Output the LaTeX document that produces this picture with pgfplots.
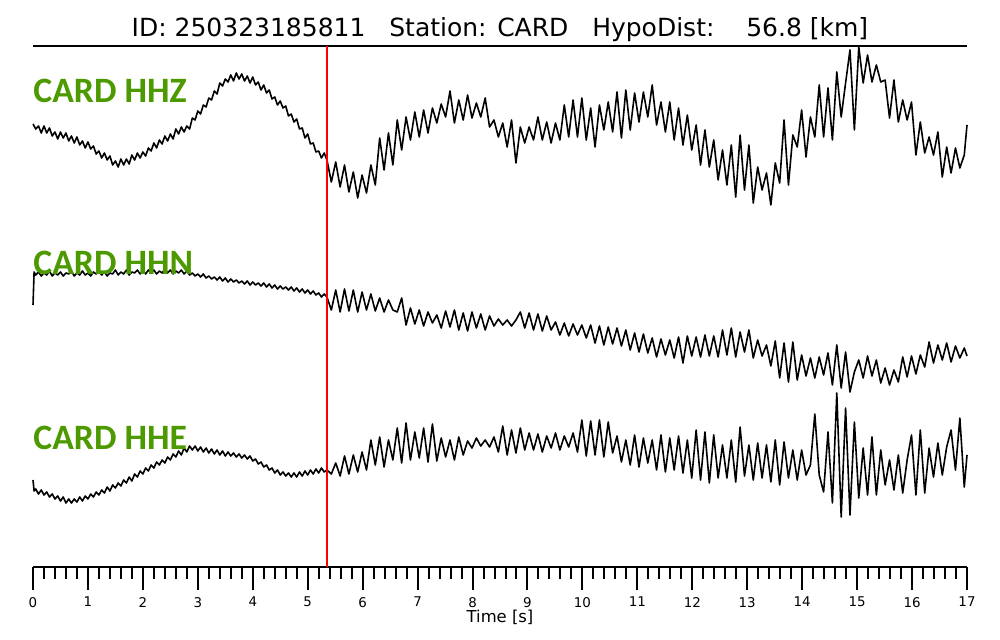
\documentclass[border=0pt]{standalone}
\usepackage{pgfplots}
\pgfplotsset{compat=1.18}
\usepackage{fontspec}
\setmainfont{DejaVu Sans}
\newfontfamily\carl{Carlito}
\definecolor{lblgreen}{RGB}{76,153,0}
\definecolor{pickred}{RGB}{255,0,0}
\begin{document}
\begin{tikzpicture}[x=1pt,y=1pt]
\useasboundingbox (0,0) rectangle (500,320);
\begin{axis}[
  at={(16.5pt,36.5pt)}, anchor=south west,
  scale only axis, width=467pt, height=260.5pt,
  xmin=0, xmax=17, ymin=46, ymax=567, y dir=reverse,
  axis x line=box, axis y line=none,
  x axis line style={line width=1pt},
  xtick={0,1,...,17}, minor x tick num=4, ytick=\empty,
  xtick pos=left,
  tick align=outside, major tick length=11.5pt, minor tick length=6pt,
  tick style={black, line width=1pt},
  /pgf/number format/assume math mode=true,
  xticklabel style={font=\fontsize{6.7}{8}\selectfont},
  clip=false,
]
\addplot[black, line width=0.8pt, line join=round] coordinates {
(0,124)(0.05,129)(0.1,126)(0.15,133)(0.2,126)(0.25,133)(0.3,128)(0.35,136)(0.4,132)(0.45,139)(0.5,132)(0.55,138)(0.6,133)(0.65,141)(0.7,136)(0.75,143)(0.8,137)(0.85,145)(0.9,141)(0.95,148)(1,142)(1.05,149)(1.1,146)(1.15,154)(1.2,151)(1.25,158)(1.3,153)(1.35,160)(1.4,156)(1.45,165)(1.5,161)(1.55,167)(1.6,159)(1.65,165)(1.7,159)(1.75,164)(1.8,155)(1.85,160)(1.9,153)(1.95,158)(2,152)(2.05,156)(2.1,148)(2.15,151)(2.2,143)(2.25,148)(2.3,140)(2.35,144)(2.4,136)(2.45,141)(2.5,134)(2.55,139)(2.6,129)(2.65,134)(2.7,127)(2.75,132)(2.8,126)(2.85,129)(2.9,118)(2.95,120)(3,111)(3.05,114)(3.1,105)(3.15,107)(3.2,98)(3.25,100)(3.3,91)(3.35,94)(3.4,83)(3.45,86)(3.5,79)(3.55,82)(3.6,75)(3.65,81)(3.7,73)(3.75,79)(3.8,74)(3.85,81)(3.9,76)(3.95,83)(4,77)(4.05,85)(4.1,82)(4.15,90)(4.2,85)(4.25,93)(4.3,90)(4.35,99)(4.4,97)(4.45,105)(4.5,101)(4.55,108)(4.6,106)(4.65,116)(4.7,114)(4.75,122)(4.8,119)(4.85,129)(4.9,128)(4.95,138)(5,134)(5.05,144)(5.1,143)(5.15,152)(5.2,151)(5.25,158)(5.3,153)(5.35,160)
(5.43,182)(5.51,162)(5.59,187)(5.67,165)(5.75,192)(5.83,172)(5.91,198)(5.99,175)(6.07,193)(6.15,165)(6.23,185)(6.31,138)(6.39,170)(6.47,133)(6.55,165)(6.63,120)(6.71,150)(6.79,117)(6.87,140)(6.95,112)(7.03,137)(7.11,110)(7.19,133)(7.27,108)(7.35,123)(7.43,104)(7.51,117)(7.59,91)(7.67,123)(7.75,100)(7.83,120)(7.91,95)(7.99,118)(8.07,103)(8.15,117)(8.23,98)(8.31,127)(8.39,120)(8.47,137)(8.55,123)(8.63,147)(8.71,120)(8.79,163)(8.87,127)(8.95,143)(9.03,127)(9.11,140)(9.19,117)(9.27,140)(9.35,122)(9.43,143)(9.51,123)(9.59,140)(9.67,105)(9.75,137)(9.83,100)(9.91,137)(9.99,98)(10.07,140)(10.15,108)(10.23,147)(10.31,105)(10.39,130)(10.47,102)(10.55,132)(10.63,92)(10.71,138)(10.79,90)(10.87,130)(10.95,93)(11.03,122)(11.11,92)(11.19,117)(11.27,85)(11.35,125)(11.43,102)(11.51,132)(11.59,102)(11.67,140)(11.75,108)(11.83,145)(11.91,115)(11.99,150)(12.07,125)(12.15,165)(12.23,130)(12.31,167)(12.39,140)(12.47,180)(12.55,150)(12.63,185)(12.71,145)(12.79,197)(12.87,135)(12.95,190)(13.03,145)(13.11,203)(13.19,167)(13.27,190)(13.35,173)(13.43,205)(13.51,163)(13.59,183)(13.67,120)(13.75,185)(13.83,135)(13.91,147)(13.99,110)(14.07,157)(14.15,117)(14.23,137)(14.31,85)(14.39,137)(14.47,88)(14.55,140)(14.63,72)(14.71,117)(14.79,83)(14.87,50)(14.95,130)(15.03,47)(15.11,83)(15.19,55)(15.27,82)(15.35,65)(15.43,82)(15.51,80)(15.59,118)(15.67,80)(15.75,122)(15.83,100)(15.91,120)(15.99,102)(16.07,155)(16.15,122)(16.23,153)(16.31,137)(16.39,155)(16.47,132)(16.55,177)(16.63,147)(16.71,173)(16.79,148)(16.87,168)(16.95,155)(17,125)
};
\addplot[black, line width=0.8pt, line join=round] coordinates {
(0,305)(0.02,272)(0.05,275)(0.1,272)(0.15,276)(0.2,273)(0.25,275)(0.3,271)(0.35,276)(0.4,273)(0.45,275)(0.5,272)(0.55,276)(0.6,273)(0.65,274)(0.7,271)(0.75,276)(0.8,273)(0.85,275)(0.9,271)(0.95,275)(1,273)(1.05,276)(1.1,272)(1.15,274)(1.2,271)(1.25,275)(1.3,272)(1.35,276)(1.4,273)(1.45,274)(1.5,270)(1.55,275)(1.6,272)(1.65,274)(1.7,270)(1.75,275)(1.8,272)(1.85,273)(1.9,270)(1.95,274)(2,271)(2.05,274)(2.1,270)(2.15,273)(2.2,270)(2.25,274)(2.3,271)(2.35,273)(2.4,269)(2.45,273)(2.5,270)(2.55,274)(2.6,271)(2.65,273)(2.7,270)(2.75,274)(2.8,271)(2.85,275)(2.9,273)(2.95,276)(3,274)(3.05,277)(3.1,274)(3.15,278)(3.2,276)(3.25,279)(3.3,277)(3.35,280)(3.4,277)(3.45,281)(3.5,278)(3.55,282)(3.6,279)(3.65,282)(3.7,280)(3.75,283)(3.8,281)(3.85,284)(3.9,281)(3.95,285)(4,282)(4.05,285)(4.1,283)(4.15,286)(4.2,283)(4.25,287)(4.3,284)(4.35,288)(4.4,285)(4.45,289)(4.5,286)(4.55,289)(4.6,287)(4.65,290)(4.7,287)(4.75,291)(4.8,288)(4.85,292)(4.9,289)(4.95,293)(5,290)(5.05,294)(5.1,291)(5.15,295)(5.2,293)(5.25,297)(5.3,294)(5.35,297)
(5.43,310)(5.51,290)(5.59,312)(5.67,289)(5.75,311)(5.83,290)(5.91,312)(5.99,292)(6.07,310)(6.15,294)(6.23,311)(6.31,298)(6.39,312)(6.47,300)(6.55,310)(6.63,312)(6.71,298)(6.79,325)(6.87,308)(6.95,324)(7.03,310)(7.11,326)(7.19,312)(7.27,323)(7.35,315)(7.43,328)(7.51,311)(7.59,327)(7.67,310)(7.75,330)(7.83,313)(7.91,331)(7.99,312)(8.07,328)(8.15,314)(8.23,330)(8.31,316)(8.39,326)(8.47,319)(8.55,325)(8.63,320)(8.71,326)(8.79,320)(8.87,312)(8.95,328)(9.03,313)(9.11,330)(9.19,314)(9.27,331)(9.35,316)(9.43,330)(9.51,322)(9.59,335)(9.67,323)(9.75,336)(9.83,324)(9.91,335)(9.99,325)(10.07,338)(10.15,325)(10.23,343)(10.31,326)(10.39,345)(10.47,327)(10.55,344)(10.63,328)(10.71,346)(10.79,330)(10.87,350)(10.95,333)(11.03,352)(11.11,334)(11.19,353)(11.27,338)(11.35,357)(11.43,339)(11.51,355)(11.59,340)(11.67,358)(11.75,337)(11.83,363)(11.91,336)(11.99,356)(12.07,337)(12.15,357)(12.23,335)(12.31,356)(12.39,336)(12.47,357)(12.55,330)(12.63,355)(12.71,328)(12.79,357)(12.87,332)(12.95,352)(13.03,330)(13.11,358)(13.19,340)(13.27,356)(13.35,345)(13.43,366)(13.51,341)(13.59,378)(13.67,343)(13.75,382)(13.83,342)(13.91,380)(13.99,355)(14.07,376)(14.15,358)(14.23,378)(14.31,357)(14.39,375)(14.47,353)(14.55,385)(14.63,345)(14.71,388)(14.79,352)(14.87,392)(14.95,372)(15.03,360)(15.11,378)(15.19,356)(15.27,376)(15.35,360)(15.43,383)(15.51,368)(15.59,385)(15.67,370)(15.75,382)(15.83,357)(15.91,377)(15.99,356)(16.07,374)(16.15,355)(16.23,367)(16.31,342)(16.39,363)(16.47,345)(16.55,360)(16.63,343)(16.71,362)(16.79,346)(16.87,358)(16.95,348)(17,356)
};
\addplot[black, line width=0.8pt, line join=round] coordinates {
(0,480)(0.02,491)(0.05,489)(0.1,494)(0.15,490)(0.2,495)(0.25,492)(0.3,497)(0.35,494)(0.4,499)(0.45,496)(0.5,501)(0.55,497)(0.6,503)(0.65,499)(0.7,503)(0.75,499)(0.8,502)(0.85,497)(0.9,501)(0.95,496)(1,499)(1.05,494)(1.1,497)(1.15,492)(1.2,495)(1.25,490)(1.3,493)(1.35,487)(1.4,491)(1.45,485)(1.5,488)(1.55,483)(1.6,486)(1.65,480)(1.7,483)(1.75,477)(1.8,481)(1.85,474)(1.9,477)(1.95,471)(2,474)(2.05,468)(2.1,471)(2.15,465)(2.2,468)(2.25,462)(2.3,465)(2.35,460)(2.4,463)(2.45,457)(2.5,460)(2.55,454)(2.6,457)(2.65,451)(2.7,455)(2.75,448)(2.8,452)(2.85,446)(2.9,450)(2.95,446)(3,451)(3.05,447)(3.1,452)(3.15,448)(3.2,453)(3.25,449)(3.3,454)(3.35,450)(3.4,455)(3.45,451)(3.5,456)(3.55,452)(3.6,456)(3.65,453)(3.7,457)(3.75,454)(3.8,458)(3.85,455)(3.9,459)(3.95,456)(4,461)(4.05,459)(4.1,464)(4.15,462)(4.2,467)(4.25,465)(4.3,470)(4.35,468)(4.4,473)(4.45,470)(4.5,475)(4.55,472)(4.6,476)(4.65,473)(4.7,477)(4.75,473)(4.8,477)(4.85,472)(4.9,476)(4.95,471)(5,475)(5.05,470)(5.1,474)(5.15,469)(5.2,473)(5.25,468)(5.3,472)(5.35,470)
(5.43,474)(5.51,463)(5.59,476)(5.67,456)(5.75,474)(5.83,455)(5.91,472)(5.99,452)(6.07,470)(6.15,440)(6.23,465)(6.31,437)(6.39,467)(6.47,440)(6.55,460)(6.63,428)(6.71,463)(6.79,423)(6.87,460)(6.95,432)(7.03,458)(7.11,428)(7.19,462)(7.27,424)(7.35,461)(7.43,438)(7.51,457)(7.59,440)(7.67,460)(7.75,437)(7.83,455)(7.91,441)(7.99,448)(8.07,438)(8.15,446)(8.23,440)(8.31,447)(8.39,437)(8.47,452)(8.55,426)(8.63,455)(8.71,430)(8.79,453)(8.87,428)(8.95,450)(9.03,433)(9.11,450)(9.19,434)(9.27,452)(9.35,436)(9.43,448)(9.51,433)(9.59,450)(9.67,436)(9.75,447)(9.83,433)(9.91,452)(9.99,420)(10.07,456)(10.15,421)(10.23,455)(10.31,420)(10.39,457)(10.47,422)(10.55,453)(10.63,436)(10.71,462)(10.79,440)(10.87,465)(10.95,435)(11.03,467)(11.11,438)(11.19,463)(11.27,440)(11.35,470)(11.43,435)(11.51,472)(11.59,438)(11.67,470)(11.75,436)(11.83,473)(11.91,440)(11.99,478)(12.07,430)(12.15,480)(12.23,432)(12.31,483)(12.39,435)(12.47,478)(12.55,445)(12.63,478)(12.71,440)(12.79,482)(12.87,427)(12.95,476)(13.03,445)(13.11,480)(13.19,443)(13.27,478)(13.35,445)(13.43,482)(13.51,440)(13.59,485)(13.67,442)(13.75,478)(13.83,450)(13.91,480)(13.99,450)(14.07,475)(14.15,465)(14.23,414)(14.31,475)(14.39,492)(14.47,432)(14.55,503)(14.63,393)(14.71,517)(14.79,408)(14.87,515)(14.95,422)(15.03,498)(15.11,448)(15.19,495)(15.27,437)(15.35,495)(15.43,450)(15.51,485)(15.59,460)(15.67,490)(15.75,455)(15.83,493)(15.91,460)(15.99,435)(16.07,495)(16.15,430)(16.23,493)(16.31,448)(16.39,477)(16.47,443)(16.55,475)(16.63,447)(16.71,430)(16.79,470)(16.87,418)(16.95,487)(17,455)
};
\addplot[draw=pickred, line width=1.1pt, forget plot] coordinates {(5.3513,46)(5.3513,567)};
\node[anchor=west, inner sep=0pt, text=lblgreen, font=\carl\bfseries\fontsize{17.85}{20}\selectfont] at (axis cs:0,91) {CARD HHZ};
\node[anchor=west, inner sep=0pt, text=lblgreen, font=\carl\bfseries\fontsize{17.85}{20}\selectfont] at (axis cs:0,263) {CARD HHN};
\node[anchor=west, inner sep=0pt, text=lblgreen, font=\carl\bfseries\fontsize{17.85}{20}\selectfont] at (axis cs:0,437.5) {CARD HHE};
\node[anchor=base, inner sep=0pt, font=\fontsize{12.5}{15}\selectfont] at (axis cs:8.5,36.5) {ID: 250323185811~~~Station: CARD~~~HypoDist:~~~~56.8 [km]};
\node[inner sep=0pt, font=\fontsize{8.2}{10}\selectfont] at (axis cs:8.5,617) {Time [s]};
\end{axis}
\end{tikzpicture}
\end{document}
